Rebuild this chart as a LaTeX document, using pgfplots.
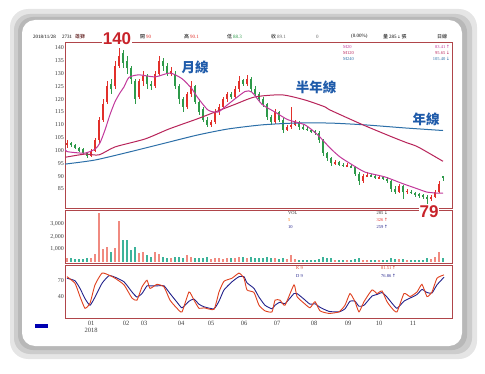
\documentclass[border=0pt]{standalone}
\usepackage{fontspec}
\setmainfont{Liberation Serif}
\newfontfamily\cjk{Noto Sans CJK TC}
\newfontfamily\lsans{Liberation Sans}
\newfontfamily\dv{DejaVu Sans}
\usepackage{pgfplots}
\pgfplotsset{compat=1.18}
\usepackage{pgfplotstable}

\definecolor{upc}{HTML}{E2302A}
\definecolor{downc}{HTML}{2E9A4A}
\definecolor{volup}{HTML}{F08A80}
\definecolor{voldown}{HTML}{3DB39A}
\definecolor{maA}{HTML}{C2399B}
\definecolor{maB}{HTML}{B8245A}
\definecolor{maC}{HTML}{2C6FA8}
\definecolor{framec}{HTML}{B0454A}
\definecolor{kc}{HTML}{E0401E}
\definecolor{dc}{HTML}{23238C}
\definecolor{labelblue}{HTML}{1F5BAA}
\definecolor{bigred}{HTML}{C8232A}

\pgfplotsset{
  panel/.style={
    scale only axis, xmin=0, xmax=387, width=387pt,
    anchor=south west,
    axis line style={draw=framec, line width=0.7pt},
    tick label style={font=\fontsize{6}{7}\selectfont, text=black!75},
    major tick length=0pt,
    xtick=\empty,
    /pgf/number format/assume math mode=true,
    yticklabel style={inner sep=1pt},
  },
  candle/.style 2 args={only marks, mark=*, mark size=0pt,
    mark options={draw=none, fill=none},
    error bars/.cd, y dir=both, y explicit, error mark=none,
    error bar style={line width=#1, draw=#2}},
}

% x = pixel offset from left frame; o h l c ; v = volume (lots)
% rising days (red)
\pgfplotstableread{
x o h l c v
2 102 104 101 103 300
26 98 100.5 97.5 100 300
30 100 105 99.5 104 600
34 104 113 103 112 3900
38 112 120 111 118 1000
42 119 127 118 125 1200
50 125 135 124 133 1100
54 133 140 132 137 3250
74 121 128 120 127 700
78 127 131 125 129 800
90 125 131 124.5 130 750
94 130 137 129 135 600
106 130 132.5 129 131 250
122 117 123 116 122 500
126 122 127 121 125 350
146 110 112 109 111 200
150 111 116 110.5 115 250
154 115 118 114 117 300
158 117 121 116 120 200
162 120 123 119 122 250
170 121 125 120.5 124 250
174 124 129 123 127 350
182 126 129.5 125 128 300
210 111 116 110.5 115 250
222 108 110 107.5 109 200
226 109 117 108.5 110 520
230 110 112 109.5 111 200
270 95 96.5 94.5 95.5 150
282 94 95 93.5 94.3 120
298 88 91 87.5 90 150
302 90 91.5 89.5 90.5 120
314 89.3 90.5 89 89.5 100
334 84 87 83.5 86 180
342 84 85 83 84.2 120
366 81 82.5 80.5 82 200
370 82 84.5 81.5 84 350
374 84 88 83.5 87 750
}\upcandles

% falling days (green)
\pgfplotstableread{
x o h l c v
6 103 103.5 101.5 102 250
10 102 102.5 100.5 101 200
14 101 101.5 99.5 100 180
18 100.5 101 98.5 99 220
22 99 99.5 97 98 260
46 126 128 122 124 800
58 138 139 132 134 1700
62 135 137 130 132 1700
66 132 133 126 128 900
70 127 128 118 120 1150
82 129 130 124 126 500
86 126 127 123.5 125 400
98 135 136 131 133 400
102 133 134 129 130 300
110 130 131 124 125 350
114 125 126 118 120 400
118 120 121 115 117 300
130 125 125.5 118 119 300
134 119 120 114 115 250
138 116 117 111 112 300
142 112 113 109 110 350
166 122 123 120 121 300
178 127.5 128 125 126 400
186 128 128.5 123 124 350
190 124 125 121 122 300
194 122 123 119 120 250
198 120 121 117 118 300
202 118 118.5 112 113 400
206 113 114 110 111 300
214 115 115.5 111 112 200
218 112 112.5 107 108 250
234 111 111.5 108 109 150
238 109 110 108 108.5 150
242 108.5 109.5 107.5 108 120
246 108 108.5 107 107.5 130
250 107.5 108 106 107 150
254 107 107.5 103 104 200
258 104 104.5 98 99 380
262 99 99.5 96 97 300
266 97 97.5 94 95 250
274 95.5 96 94 94.5 120
278 94.5 95 93.5 94 100
286 94 94.5 93 93.5 100
290 93.5 94 90 91 200
294 91 91.5 86.5 88 250
306 90.5 91 89.5 90 100
310 90 90.5 89 89.5 100
318 89.5 90 88.5 89 110
322 89 89.5 87.5 88 120
326 88 88.5 84 85 250
330 85 86 83 84 200
338 86 86.5 81 84 220
346 84 84.5 83 83.5 110
350 83.5 84 82 83 100
354 83 83.5 81.5 82.5 120
358 82.5 83 81 82 150
362 82 82.5 79 81 300
378 90 90.1 88.3 89.1 285
}\dncandles

\pgfplotstableread{
x y
0 100.5
2 99.6
10 99.2
20 99
30 100.5
35 103
40 108
45 114
50 119
55 122.5
59 124.8
64 128.5
74 129.5
90 128.7
105 130.2
117 128
127 124
132 121
143 115.8
153 115
163 118
180 123
187 122.7
197 118
210 115
223 112
240 110
253 106
265 101
275 97.5
287 94.5
300 91.6
320 89.7
337 87.2
353 85
362 83.8
372 83.4
378 83.4
}\maone

\pgfplotstableread{
x y
0 97.4
2 97.5
20 98.6
34 98.3
50 101.4
80 104.5
104 108.4
132 112.3
150 115
170 118
190 120.9
217 121.7
240 119.7
260 117
265 115.8
298 110
327 105.3
342 103
353 101.4
378 95.8
}\matwo

\pgfplotstableread{
x y
0 94.7
2 94.8
30 96.3
64 99.4
97 102.6
132 106
163 108.4
197 110
230 110.7
265 110.7
300 110
340 108.8
378 107.8
}\mathree

\pgfplotstableread{
x y
2 78
10 65
15 39
20 16
25 26
30 62
37 85
44 81
50 75
59 62
67 36
72 32
77 58
82 71
85 55
92 63
99 58
105 32
112 16
117 9
124 48
129 32
134 16
139 17
149 14
154 48
159 69
167 75
174 85
179 75
182 52
189 47
194 22
200 11
207 9
210 32
215 32
220 22
229 62
232 39
239 26
245 17
250 29
255 11
264 6
274 9
280 22
285 45
290 29
294 9
299 29
307 52
312 45
317 50
322 29
327 16
332 9
339 45
345 39
352 48
357 63
362 39
367 48
372 75
379 81.5
}\kline

\pgfplotstableread{
x y
2 75
10 70
15 55
20 35
25 22
30 38
37 65
44 80
50 77
59 68
67 48
72 38
77 45
82 60
85 60
92 60
99 60
105 45
112 28
117 17
124 30
129 34
134 24
139 19
149 15
154 30
159 52
167 68
174 78
179 78
182 66
189 55
194 38
200 22
207 15
210 22
215 28
220 25
229 45
232 45
239 34
245 24
250 25
255 18
264 10
274 9
280 15
285 30
290 30
294 20
299 22
307 40
312 43
317 47
322 38
327 26
332 16
339 30
345 36
352 43
357 53
362 47
367 46
372 62
379 76.9
}\dline

\begin{document}
\begin{tikzpicture}
\path[use as bounding box] (0pt,0pt) rectangle (485pt,373pt);
% card with shadow
\fill[black!10, rounded corners=18pt] (10pt,14pt) rectangle (477pt,364pt);
\fill[black!20, rounded corners=16pt] (14pt,19pt) rectangle (472pt,359pt);
\fill[black!28, rounded corners=15pt] (18pt,23pt) rectangle (467pt,356pt);
\fill[white, rounded corners=13pt] (22pt,27pt) rectangle (462pt,353pt);

% ---------- price panel ----------
\begin{axis}[panel, at={(65pt,165pt)}, height=166pt,
  ymin=77.6, ymax=142.3, ytick={85,90,...,140}]
  % wicks
  \addplot[candle={0.5pt}{upc}]
    table[x=x, y expr={(\thisrow{h}+\thisrow{l})/2}, y error expr={(\thisrow{h}-\thisrow{l})/2}] {\upcandles};
  \addplot[candle={0.5pt}{downc}]
    table[x=x, y expr={(\thisrow{h}+\thisrow{l})/2}, y error expr={(\thisrow{h}-\thisrow{l})/2}] {\dncandles};
  % bodies
  \addplot[candle={2.2pt}{upc}]
    table[x=x, y expr={(\thisrow{o}+\thisrow{c})/2}, y error expr={max(abs(\thisrow{c}-\thisrow{o})/2,0.2)}] {\upcandles};
  \addplot[candle={2.2pt}{downc}]
    table[x=x, y expr={(\thisrow{o}+\thisrow{c})/2}, y error expr={max(abs(\thisrow{c}-\thisrow{o})/2,0.2)}] {\dncandles};
  % moving averages
  \addplot[maC, line width=1pt, smooth, tension=0.4] table {\mathree};
  \addplot[maB, line width=1pt, smooth, tension=0.4] table {\matwo};
  \addplot[maA, line width=1pt, smooth, tension=0.4] table {\maone};
\end{axis}

% ---------- volume panel ----------
\begin{axis}[panel, at={(65pt,110pt)}, height=53pt,
  ymin=-120, ymax=4120, ytick={1000,2000,3000}]
  \addplot[ycomb, line width=2pt, draw=volup, mark=none] table[x=x, y=v] {\upcandles};
  \addplot[ycomb, line width=2pt, draw=voldown, mark=none] table[x=x, y=v] {\dncandles};
\end{axis}

% ---------- KD panel ----------
\begin{axis}[panel, at={(65pt,55pt)}, height=53pt,
  ymin=-3, ymax=100.9, ytick={40,70},
  xtick={26,61,79,116,146,179,212,249,283,314,348},
  xticklabels={{01\\2018},02,03,04,05,06,07,08,09,10,11},
  xticklabel style={align=center, font=\fontsize{6.5}{6.5}\selectfont, inner sep=1pt, yshift=-2pt}]
  \addplot[dc, line width=0.9pt, smooth, tension=0.3] table {\dline};
  \addplot[kc, line width=0.9pt, smooth, tension=0.3] table {\kline};
\end{axis}

% ---------- header ----------
\draw[framec, line width=0.7pt] (65pt,331pt) -- (452pt,331pt);
\begin{scope}[every node/.style={anchor=west, inner sep=0pt, font=\fontsize{5}{5}\selectfont}]
\node at (33pt,336.5pt) {2018/11/28};
\node at (62pt,336.5pt) {2731};
\node[text=black!70!red] at (75pt,336.5pt) {\cjk 雄獅};
\node at (140pt,336.5pt) {{\cjk 開}\,\textcolor{upc}{90}};
\node at (184pt,336.5pt) {{\cjk 高}\,\textcolor{upc}{90.1}};
\node at (227pt,336.5pt) {{\cjk 低}\,\textcolor{downc}{88.3}};
\node at (271pt,336.5pt) {{\cjk 收}\,\textcolor{black!60}{89.1}};
\node[text=black!60] at (316pt,336.5pt) {0};
\node at (351pt,336.5pt) {(0.00\%)};
\node at (383pt,336.5pt) {{\cjk 量}\,285\,{\dv\fontsize{4}{4}\selectfont↓}\,{\cjk 張}};
\node at (437pt,336.5pt) {\cjk 日線};
\end{scope}

% MA legend
\begin{scope}[every node/.style={inner sep=0pt, font=\fontsize{4.5}{5}\selectfont}]
\node[anchor=west, text=maA] at (343pt,326pt) {M20};
\node[anchor=west, text=maB] at (343pt,320pt) {M120};
\node[anchor=west, text=maC] at (343pt,314pt) {M240};
\node[anchor=east, text=maA] at (450pt,326pt) {83.41\,{\dv↑}};
\node[anchor=east, text=maB] at (450pt,320pt) {95.65\,{\dv↓}};
\node[anchor=east, text=maC] at (450pt,314pt) {105.40\,{\dv↓}};
% volume legend
\node[anchor=west, text=black!80] at (288pt,160pt) {VOL};
\node[anchor=west, text=orange!90!red] at (288pt,153pt) {5};
\node[anchor=west, text=dc] at (288pt,146pt) {10};
\node[anchor=east, text=black!80] at (388pt,160pt) {285\,{\dv↓}};
\node[anchor=east, text=upc] at (388pt,153pt) {326\,{\dv↑}};
\node[anchor=east, text=dc] at (388pt,146pt) {259\,{\dv↑}};
% KD legend
\node[anchor=west, text=kc] at (296pt,105pt) {K 9};
\node[anchor=west, text=dc] at (296pt,97pt) {D 9};
\node[anchor=east, text=kc] at (396pt,105pt) {81.51\,{\dv↑}};
\node[anchor=east, text=dc] at (396pt,97pt) {76.86\,{\dv↑}};
\end{scope}

% blue marker bottom-left
\fill[blue!70!black] (35pt,45pt) rectangle (48pt,49pt);

% annotations
\node[fill=white, inner sep=1pt, text=bigred, font=\lsans\bfseries\fontsize{17}{17}\selectfont] at (117pt,334.5pt) {140};
\node[fill=white, inner sep=1pt, text=bigred, font=\lsans\bfseries\fontsize{17}{17}\selectfont] at (429pt,161.5pt) {79};
\node[text=labelblue, font=\cjk\bfseries\fontsize{13.5}{14}\selectfont] at (195pt,305.5pt) {月線};
\node[text=labelblue, font=\cjk\bfseries\fontsize{13.5}{14}\selectfont] at (316pt,285.5pt) {半年線};
\node[text=labelblue, font=\cjk\bfseries\fontsize{13.5}{14}\selectfont] at (426pt,253.5pt) {年線};
\end{tikzpicture}
\end{document}
